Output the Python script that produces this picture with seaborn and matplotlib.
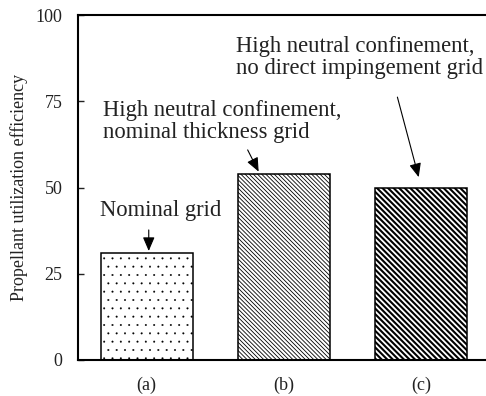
import matplotlib
matplotlib.use("Agg")
import matplotlib.pyplot as plt
import seaborn as sns
import pandas as pd

categories = ["(a)", "(b)", "(c)"]
values = [31, 54, 50]
yticks = [0, 25, 50, 75, 100]
ylabel = "Propellant utilization efficiency"
notes = ["Nominal grid",
         "High neutral confinement,\nnominal thickness grid",
         "High neutral confinement,\nno direct impingement grid"]

sns.set_theme(style="ticks")
plt.rcParams["font.family"] = ["Liberation Serif", "DejaVu Serif"]
plt.rcParams["hatch.linewidth"] = 0.8

df = pd.DataFrame({"cat": categories, "val": values})

fig = plt.figure(figsize=(4.86, 3.96), dpi=100)
ax = fig.add_axes([78/486, 1 - 360/396, 1 - 78/486, (360 - 15)/396])

sns.barplot(data=df, x="cat", y="val", ax=ax, color="white", saturation=1,
            edgecolor="black", linewidth=1.1, width=0.67, errorbar=None)

hatches = ["..", "\\" * 8, "\\" * 6]
hlw = [0.2, 0.6, 1.5]
for p, h, lw in zip(ax.patches, hatches, hlw):
    p.set_hatch(h)
    p.set_facecolor("white")
    p.set_edgecolor("black")
    if hasattr(p, "set_hatch_linewidth"):
        p.set_hatch_linewidth(lw)

ax.set_ylim(0, 100)
ax.set_xlim(-0.5, 2.47)
ax.set_yticks(yticks)
ax.set_yticklabels([str(t) for t in yticks])
ax.set_xlabel("")
ax.set_ylabel(ylabel, fontsize=13, color="#222222", labelpad=6)
ax.tick_params(axis="y", direction="in", length=4, width=1, pad=11,
               labelsize=13, colors="#222222")
ax.tick_params(axis="x", length=0, pad=12, labelsize=13, colors="#222222")
for s in ["left", "bottom", "top"]:
    ax.spines[s].set_linewidth(1.5)
    ax.spines[s].set_color("black")
ax.spines["right"].set_visible(False)

ap = dict(arrowstyle="-|>,head_length=0.7,head_width=0.3", color="black",
          lw=0.8, shrinkA=0, shrinkB=0)
fs = 16.3
ax.text(0.10, 43.3, notes[0], fontsize=fs, ha="center", va="center", color="#222222")
ax.annotate("", xy=(0.015, 31.6), xytext=(0.015, 37.7), arrowprops=ap)
ax.text(-0.32, 69.1, notes[1], fontsize=fs, ha="left", va="center",
        linespacing=1.1, color="#222222")
ax.annotate("", xy=(0.815, 54.6), xytext=(0.735, 60.9), arrowprops=ap)
ax.text(0.647, 87.7, notes[2], fontsize=fs, ha="left", va="center",
        linespacing=1.1, color="#222222")
ax.annotate("", xy=(1.98, 53.0), xytext=(1.825, 76.2), arrowprops=ap)

fig.savefig("out.png", dpi=100)
